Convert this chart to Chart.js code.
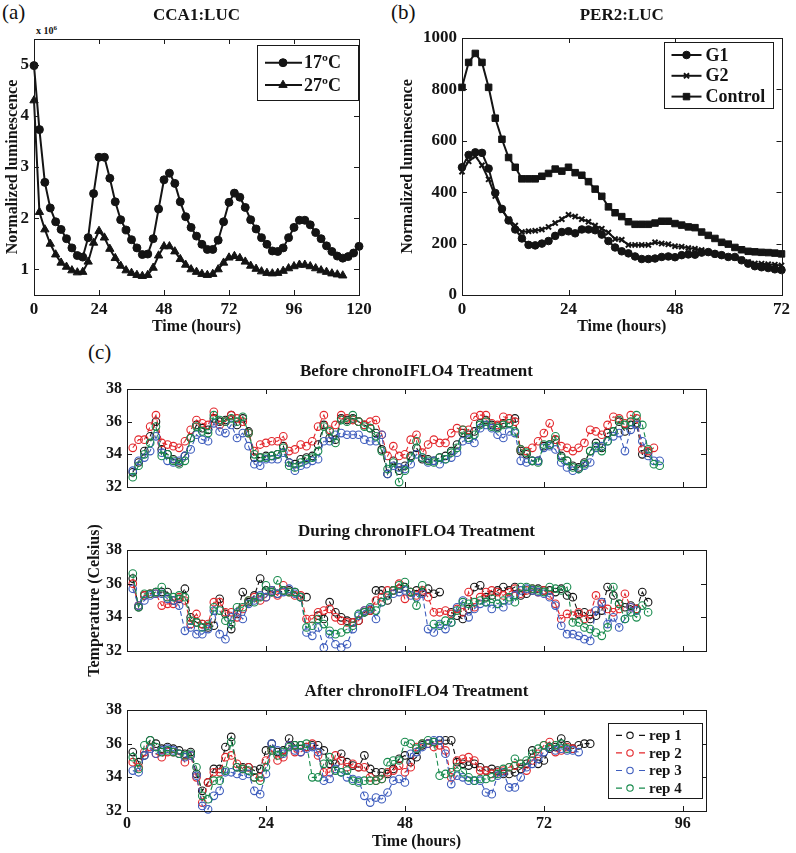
<!DOCTYPE html>
<html>
<head>
<meta charset="utf-8">
<script src="https://cdn.jsdelivr.net/npm/chart.js@4.4.1/dist/chart.umd.min.js"></script>
<style>
  body { margin: 0; background: #fff; width: 796px; height: 853px; position: relative; overflow: hidden;
         font-family: "Liberation Serif", "Times New Roman", serif; color: #111; }
  canvas { position: absolute; }
  .tag { position: absolute; font-size: 21px; line-height: 22px; }
  .mult { position: absolute; font-size: 10px; font-weight: bold; }
</style>
</head>
<body>
<div class="tag" style="left:2px;top:1px">(a)</div>
<div class="tag" style="left:391px;top:1px">(b)</div>
<div class="tag" style="left:88px;top:341px">(c)</div>
<div class="mult" style="left:36px;top:24px">x 10<sup style="font-size:7px">6</sup></div>

<canvas id="chartA" width="392" height="340" style="left:0;top:0"></canvas>
<canvas id="chartB" width="398" height="340" style="left:398px;top:0"></canvas>
<canvas id="chartC1" width="680" height="148" style="left:60px;top:352px"></canvas>
<canvas id="chartC2" width="680" height="220" style="left:60px;top:480px"></canvas>
<canvas id="chartC3" width="680" height="181" style="left:60px;top:672px"></canvas>

<script>
// ---- panel (a) CCA1:LUC (x 10^6) ----
const hoursA = [0, 2, 4, 6, 8, 10, 12, 14, 16, 18, 20, 22, 24, 26, 28, 30, 32, 34, 36, 38, 40,
  42, 44, 46, 48, 50, 52, 54, 56, 58, 60, 62, 64, 66, 68, 70, 72, 74, 76, 78, 80,
  82, 84, 86, 88, 90, 92, 94, 96, 98, 100, 102, 104, 106, 108, 110, 112, 114, 116, 118, 120];
const cca17 = [4.98, 3.73, 2.70, 2.20, 1.93, 1.78, 1.60, 1.42, 1.27, 1.24,
  1.62, 2.48, 3.19, 3.19, 2.78, 2.32, 1.97, 1.77, 1.58, 1.42,
  1.29, 1.30, 1.60, 2.18, 2.75, 2.88, 2.68, 2.32, 2.03, 1.82,
  1.65, 1.49, 1.39, 1.39, 1.57, 1.93, 2.31, 2.49, 2.41, 2.21,
  1.97, 1.79, 1.62, 1.49, 1.36, 1.35, 1.42, 1.62, 1.82, 1.96,
  1.96, 1.87, 1.72, 1.60, 1.46, 1.35, 1.26, 1.22, 1.25, 1.32, 1.45];
const cca27 = [4.30, 2.12, 1.78, 1.50, 1.29, 1.13, 1.05, 0.98, 0.94, 0.95,
  1.15, 1.52, 1.75, 1.62, 1.40, 1.22, 1.07, 0.98, 0.93, 0.89,
  0.87, 0.89, 1.03, 1.27, 1.45, 1.45, 1.35, 1.20, 1.09, 1.00,
  0.95, 0.91, 0.89, 0.91, 1.00, 1.13, 1.23, 1.26, 1.22, 1.15,
  1.07, 1.01, 0.96, 0.93, 0.92, 0.93, 0.97, 1.02, 1.06, 1.09,
  1.09, 1.06, 1.02, 0.98, 0.95, 0.92, 0.90, 0.88];
const ticksAx = [0, 24, 48, 72, 96, 120];
const ticksAy = [1, 2, 3, 4, 5];

// ---- panel (b) PER2:LUC ----
const hoursB = [0, 1.5, 3, 4.5, 6, 7.5, 9, 10.5, 12, 13.5, 15, 16.5, 18, 19.5, 21, 22.5, 24,
  25.5, 27, 28.5, 30, 31.5, 33, 34.5, 36, 37.5, 39, 40.5, 42, 43.5, 45, 46.5, 48,
  49.5, 51, 52.5, 54, 55.5, 57, 58.5, 60, 61.5, 63, 64.5, 66, 67.5, 69, 70.5, 72];
const per2G1 = [497, 545, 555, 553, 492, 397, 335, 290, 255, 220,
  195, 193, 200, 210, 230, 245, 248, 240, 255, 255,
  252, 235, 210, 185, 170, 162, 150, 140, 140, 142,
  148, 150, 147, 155, 158, 157, 165, 167, 160, 155,
  148, 148, 135, 122, 112, 108, 105, 100, 97];
const per2G2 = [480, 520, 540, 505, 450, 385, 330, 295, 270, 245,
  248, 250, 255, 265, 280, 295, 312, 305, 295, 285,
  270, 258, 243, 218, 215, 195, 195, 195, 195, 205,
  200, 197, 190, 188, 183, 180, 175, 165, 158, 155,
  150, 145, 138, 128, 123, 122, 120, 118, 115];
const per2Control = [808, 905, 940, 905, 808, 688, 606, 535, 497, 452,
  452, 452, 462, 473, 490, 482, 497, 476, 466, 441,
  412, 384, 343, 320, 305, 285, 275, 275, 275, 280,
  287, 287, 278, 272, 265, 262, 245, 232, 220, 205,
  198, 185, 176, 170, 168, 166, 165, 163, 160];
const ticksBx = [0, 24, 48, 72];
const ticksBy = [0, 200, 400, 600, 800, 1000];

// ---- panel (c) temperature, Celsius ----
const hoursC = [1, 2, 3, 4, 5, 6, 7, 8, 9, 10, 11, 12, 13, 14, 15, 16, 17, 18, 19, 20,
  21, 22, 23, 24, 25, 26, 27, 28, 29, 30, 31, 32, 33, 34, 35, 36, 37, 38, 39, 40,
  41, 42, 43, 44, 45, 46, 47, 48, 49, 50, 51, 52, 53, 54, 55, 56, 57, 58, 59, 60,
  61, 62, 63, 64, 65, 66, 67, 68, 69, 70, 71, 72, 73, 74, 75, 76, 77, 78, 79, 80,
  81, 82, 83, 84, 85, 86, 87, 88, 89, 90, 91, 92];
const repNames = ["rep 1", "rep 2", "rep 3", "rep 4"];
const ticksCx = [0, 24, 48, 72, 96];
const ticksCy = [32, 34, 36, 38];

const beforeRep1 = [32.9, 33.5, 34.2, 35.1, 36.0, 34.3, 34.0, 33.7, 33.5, 33.9,
  35.0, 35.8, 35.6, 35.5, 36.2, 36.0, 36.1, 36.4, 35.8, 36.2,
  35.4, 33.8, 33.8, 33.9, 33.9, 34.0, 34.5, 33.5, 33.4, 33.7,
  33.8, 33.9, 34.6, 35.8, 35.0, 34.9, 36.2, 36.1, 36.2, 36.0,
  35.8, 35.6, 35.3, 34.3, 32.8, 33.6, 33.0, 33.3, 33.9, 34.4,
  33.7, 33.7, 33.6, 33.8, 33.9, 34.2, 34.6, 35.3, 35.2, 35.4,
  35.9, 36.1, 35.8, 35.7, 35.9, 35.9, 36.2, 34.2, 34.0, 33.6,
  33.6, 34.5, 34.6, 34.9, 33.9, 33.6, 33.3, 33.2, 33.5, 34.2,
  34.7, 34.4, 35.3, 35.4, 36.0, 35.4, 35.8, 35.9, 34.0, 34.1];
const beforeRep2 = [34.4, 34.9, 34.9, 35.7, 36.4, 34.7, 34.6, 34.5, 34.4, 34.8,
  35.5, 36.1, 35.9, 35.8, 36.6, 35.8, 36.0, 36.4, 36.2, 36.0,
  35.3, 34.2, 34.6, 34.7, 34.8, 34.8, 35.1, 34.2, 34.3, 34.6,
  34.5, 34.8, 35.7, 36.4, 35.5, 35.8, 36.4, 36.2, 36.1, 36.0,
  35.8, 36.0, 36.1, 35.2, 33.9, 34.5, 33.9, 34.0, 34.9, 35.2,
  34.1, 34.6, 34.9, 34.7, 34.7, 35.3, 35.6, 35.5, 35.5, 36.3,
  36.4, 36.4, 35.9, 35.8, 36.3, 36.2, 36.0, 34.3, 34.2, 34.4,
  34.8, 35.3, 35.9, 34.9, 34.5, 34.4, 34.2, 34.4, 34.7, 35.5,
  35.4, 35.2, 35.8, 36.3, 36.2, 35.9, 36.4, 36.2, 34.3, 34.2, 34.4];
const beforeRep3 = [33.0, 33.6, 33.8, 34.2, 35.1, 34.1, 33.6, 33.5, 33.6, 33.9,
  34.3, 35.2, 34.9, 34.8, 35.9, 35.4, 35.3, 35.8, 35.0, 35.3,
  34.5, 33.4, 33.3, 33.7, 33.7, 33.7, 34.1, 33.5, 33.0, 33.3,
  33.4, 33.6, 33.7, 34.8, 34.8, 35.2, 35.3, 35.2, 35.2, 35.2,
  34.9, 34.8, 34.8, 35.2, 32.8, 33.3, 33.2, 33.1, 33.4, 34.0,
  33.8, 33.5, 33.6, 33.4, 33.7, 33.8, 34.1, 34.8, 34.9, 34.7,
  35.6, 35.8, 35.6, 35.2, 35.0, 35.4, 35.3, 33.6, 33.5, 33.6,
  33.6, 34.4, 34.5, 34.3, 33.5, 33.2, 33.0, 33.1, 33.3, 33.5,
  34.4, 34.5, 34.8, 35.1, 35.3, 34.2, 35.5, 35.8, 34.8, 33.9, 33.6, 33.6];
const beforeRep4 = [32.6, 33.3, 34.0, 34.7, 35.7, 33.9, 34.0, 33.6, 33.4, 33.6,
  35.0, 35.7, 35.4, 35.3, 36.4, 36.1, 36.0, 36.2, 36.0, 36.3,
  35.3, 34.0, 33.8, 33.8, 33.9, 34.0, 34.4, 33.3, 33.2, 33.5,
  33.7, 33.8, 34.2, 35.7, 35.4, 34.7, 36.1, 36.0, 36.4, 36.0,
  35.7, 35.6, 35.1, 34.2, 33.1, 33.5, 32.3, 33.0, 33.8, 34.8,
  33.8, 33.6, 33.5, 33.8, 33.7, 34.1, 34.4, 35.5, 35.0, 35.2,
  35.8, 36.0, 35.7, 35.6, 35.8, 35.9, 35.4, 34.3, 34.1, 33.6,
  33.5, 34.6, 34.6, 35.1, 33.8, 33.6, 33.2, 33.1, 33.4, 34.2,
  34.5, 34.2, 34.8, 35.4, 36.1, 35.8, 36.0, 36.4, 35.8, 34.3, 33.4, 33.3];

const duringRep1 = [36.3, 34.6, 35.3, 35.4, 35.5, 35.5, 35.5, 35.0, 35.1, 35.7,
  34.0, 33.7, 33.6, 33.4, 33.5, 35.1, 34.2, 33.3, 34.2, 35.5,
  34.9, 35.3, 36.3, 35.6, 35.5, 35.4, 35.6, 35.6, 35.5, 35.2,
  35.2, null, 34.1, 33.9, 34.9, 34.3, 34.0, 33.8, 33.7, 33.8,
  34.3, 34.4, 35.6, 35.6, 35.0, 35.6, 35.7, 35.8, 35.5, 35.6,
  35.5, 35.7, 35.4, 35.5, null, 34.3, 34.1, 33.9, 34.5, 35.8,
  35.9, 35.2, 35.3, 35.6, 35.8, 35.6, 35.8, 35.3, 35.4, 35.6,
  35.7, 35.6, 35.6, 35.5, 35.7, 35.3, 35.2, 34.2, 34.3, 33.9,
  34.1, 34.4, 35.8, 35.3, 34.8, 34.6, 34.7, 34.5, 35.5, 34.9];
const duringRep2 = [36.0, 34.7, 35.3, 35.4, 35.4, 34.7, 34.8, 34.8, 35.2, 35.0,
  33.6, 34.2, 33.6, 33.6, 34.9, 34.9, 34.3, 34.3, 34.0, 34.5,
  35.0, 35.2, 35.0, 35.2, 35.6, 35.3, 35.9, 35.5, 35.3, 35.3,
  33.9, 33.9, 34.3, 34.4, 34.5, 34.0, 33.8, 33.7, 33.7, 33.8,
  34.4, 34.4, 35.0, 35.2, 35.6, 35.6, 36.0, 35.1, 35.5, 35.3,
  35.6, 35.2, 34.3, 34.3, 34.4, 34.2, 34.5, 34.3, 35.5, 34.6,
  35.2, 35.5, 35.6, 35.5, 35.3, 35.5, 35.7, 35.4, 35.6, 35.7,
  35.5, 35.6, 35.3, 34.8, 33.9, 34.2, 34.1, 34.3, 33.9, 34.2,
  35.3, 34.8, 34.5, 34.3, 34.5, 35.4, 34.6, 34.5];
const duringRep3 = [35.7, 34.7, 35.0, 35.3, 35.4, 35.4, 35.1, 35.0, 34.7, 33.2,
  33.4, 33.0, 33.0, 33.3, 34.4, 33.0, 32.7, 34.0, 34.3, 33.9,
  34.8, 35.0, 35.3, 35.2, 35.6, 35.4, 35.5, 35.7, 35.4, 35.2,
  33.1, 32.9, 33.4, 32.2, 33.0, 32.4, 32.2, 32.4, 33.3, 34.1,
  34.4, 34.5, 33.9, 34.9, 35.3, 35.4, 35.5, 35.6, 35.3, 35.2,
  35.4, 33.3, 33.1, 33.6, 33.3, 33.7, 34.6, 35.0, 34.0, 34.5,
  34.8, 34.9, 34.5, 34.8, 34.6, 35.0, 35.3, 35.6, 35.7, 35.6,
  35.5, 35.4, 35.2, 34.7, 33.5, 33.0, 33.0, 32.9, 32.7, 32.6,
  34.4, 34.9, 33.6, 34.0, 33.4, 33.9, 34.6, 34.4];
const duringRep4 = [36.6, 34.6, 35.4, 35.4, 35.5, 35.8, 35.2, 35.2, 35.3, 35.2,
  33.8, 33.7, 33.4, 33.5, 34.6, 34.4, 33.8, 33.6, 34.6, 34.6,
  35.0, 34.9, 35.2, 35.9, 35.5, 36.2, 35.6, 35.5, 35.5, 35.2,
  33.4, 33.5, 33.9, 33.6, 33.2, 33.0, 33.1, 33.3, 33.5, 34.2,
  34.3, 34.6, 34.4, 34.9, 35.3, 35.6, 35.9, 36.1, 35.5, 34.7,
  35.9, null, 33.6, 33.5, 33.8, 33.7, 34.4, 34.9, 34.8, 34.9,
  35.0, 34.9, 35.1, 34.8, 35.0, 35.2, 34.9, 35.8, 35.8, 35.7,
  35.6, 35.5, 35.8, 35.7, 35.6, 35.8, 33.7, 33.7, 33.4, 33.3,
  33.1, 32.9, 33.4, 35.8, 34.8, 33.9, 34.3, 34.0, 34.7, 34.3];

const afterRep1 = [35.5, 34.9, 35.3, 36.2, 36.0, 35.7, 35.8, 35.7, 35.6, 35.4,
  35.5, 34.2, 33.2, 33.7, 34.5, 34.5, 35.8, 36.4, 34.6, 34.6,
  34.6, 34.4, 34.5, 35.6, 36.0, 35.5, 35.6, 36.3, 35.9, 35.9,
  35.8, 35.9, 35.9, 35.6, 34.8, 34.8, 35.4, 34.9, 34.7, 34.6,
  35.3, 34.5, 34.3, 34.3, 34.2, 34.5, 35.1, 35.3, 34.9, 35.2,
  35.9, 36.0, 36.1, 36.2, 36.2, 36.2, 34.9, 34.8, 34.7, 34.8,
  34.6, 34.4, 34.5, 34.4, 34.2, 34.2, 34.3, 34.5, 34.8, 35.6,
  34.8, 35.0, 35.7, 35.8, 36.3, 35.9, 35.7, 35.9, 36.0, 36.0];
const afterRep2 = [34.9, 34.6, 35.5, 35.8, 35.4, 35.2, 35.5, 35.5, 35.4, 34.9,
  35.3, 34.0, 32.5, 33.7, 34.3, 34.3, 35.2, 35.3, 34.8, 34.5,
  34.6, 34.0, 34.0, 35.0, 35.6, 35.0, 35.2, 35.9, 35.5, 35.5,
  35.8, 36.0, 35.3, 34.3, 34.3, 35.3, 35.0, 34.6, 34.8, 34.6,
  34.6, 34.0, 33.8, 33.9, 34.3, 34.4, 34.7, 34.3, 34.6, 35.8,
  36.0, 36.0, 35.8, 35.9, 35.6, 34.0, 35.0, 35.1, 35.2, 35.0,
  34.4, 34.4, 34.2, 34.3, 34.4, 34.6, 34.7, 34.8, 34.4, 35.0,
  35.4, 35.9, 36.1, 35.5, 35.6, 35.8, 35.7];
const afterRep3 = [34.4, 34.3, 35.3, 35.7, 35.4, 35.6, 35.7, 35.6, 35.4, 35.2,
  35.3, 34.1, 32.3, 32.1, 32.9, 33.2, 34.3, 34.3, 34.2, 34.1,
  34.2, 33.2, 33.0, 34.2, 36.0, 35.6, 35.4, 35.9, 35.6, 35.5,
  35.7, 35.8, 35.5, 33.8, 33.9, 34.5, 34.3, 34.0, 33.9, 33.8,
  32.9, 32.5, 32.8, 32.7, 33.1, 33.8, 33.9, 33.7, 35.4, 35.5,
  35.8, 36.0, 36.2, 36.2, 35.4, 33.6, 34.1, 34.0, 33.8, 33.8,
  33.8, 33.1, 33.0, 34.1, 34.3, 33.4, 33.4, 34.0, 34.6, 34.8,
  35.1, 35.5, 35.8, 35.6, 35.7, 35.6, 35.6, 35.5];
const afterRep4 = [35.2, 34.5, 35.9, 36.2, 35.8, 35.5, 35.6, 35.5, 35.4, 35.3,
  35.4, 34.6, 32.9, 32.7, 33.8, 33.8, 34.4, 36.1, 34.6, 34.5,
  34.4, 34.0, 33.8, 34.6, 35.6, 35.3, 35.5, 35.8, 35.9, 35.9,
  36.0, 34.0, 34.0, 34.8, 35.2, 34.4, 34.3, 34.4, 33.8, 33.7,
  33.8, 33.8, 33.8, 33.9, 34.9, 35.0, 35.0, 36.1, 36.0, 35.7,
  36.0, 36.2, 36.1, 34.1, 34.2, 34.3, 34.6, 34.3, 34.0, 33.8,
  33.9, 33.9, 34.0, 34.2, 34.5, 34.6, 35.1, 34.8, 35.0, 35.4,
  35.7, 35.9, 35.8, 35.9, 36.0, 35.7];

const repColors = ["#141414", "#e3262b", "#3d5cbd", "#178a4c"];

Chart.defaults.font.family = '"Liberation Serif", "Times New Roman", serif';
Chart.defaults.font.weight = 'bold';
Chart.defaults.color = '#141414';

// matlab style frame with inward ticks on all four sides
const boxTicks = {
  id: 'boxTicks',
  afterDatasetsDraw(chart) {
    const {ctx, chartArea: a, scales: {x, y}} = chart;
    const len = 5;
    ctx.save();
    ctx.strokeStyle = '#1a1a1a';
    ctx.lineWidth = 1;
    ctx.beginPath();
    x.ticks.forEach(t => {
      const px = Math.round(x.getPixelForValue(t.value)) + 0.5;
      ctx.moveTo(px, a.bottom); ctx.lineTo(px, a.bottom - len);
      ctx.moveTo(px, a.top); ctx.lineTo(px, a.top + len);
    });
    y.ticks.forEach(t => {
      const py = Math.round(y.getPixelForValue(t.value)) + 0.5;
      ctx.moveTo(a.left, py); ctx.lineTo(a.left + len, py);
      ctx.moveTo(a.right, py); ctx.lineTo(a.right - len, py);
    });
    ctx.stroke();
    ctx.strokeRect(Math.round(a.left) + 0.5, Math.round(a.top) + 0.5,
      Math.round(a.width), Math.round(a.height));
    ctx.restore();
  }
};

// boxed legend inside the plot, sample line + marker + label
const insetLegend = {
  id: 'insetLegend',
  afterDraw(chart, args, o) {
    if (!o || !o.w) return;
    const {ctx, chartArea: a} = chart;
    const x0 = a.right - o.right - o.w, y0 = a.top + o.top;
    ctx.save();
    ctx.fillStyle = '#fff';
    ctx.fillRect(x0, y0, o.w, o.h);
    ctx.strokeStyle = '#1a1a1a';
    ctx.lineWidth = 1;
    ctx.strokeRect(Math.round(x0) + 0.5, Math.round(y0) + 0.5, o.w, o.h);
    ctx.font = 'bold ' + o.fontSize + 'px "Liberation Serif", serif';
    ctx.textBaseline = 'middle';
    chart.data.datasets.forEach((ds, i) => {
      const yy = y0 + o.rowTop + i * o.rowGap;
      ctx.strokeStyle = ds.borderColor;
      ctx.lineWidth = o.lineWidth;
      ctx.setLineDash(o.dash || []);
      ctx.beginPath();
      ctx.moveTo(x0 + o.lineX0, yy);
      ctx.lineTo(x0 + o.lineX1, yy);
      ctx.stroke();
      ctx.setLineDash([]);
      ctx.fillStyle = ds.pointBackgroundColor;
      ctx.strokeStyle = ds.pointBorderColor;
      ctx.lineWidth = ds.pointBorderWidth;
      Chart.helpers.drawPoint(ctx, {pointStyle: ds.pointStyle, radius: o.markR || ds.pointRadius,
        borderWidth: ds.pointBorderWidth, rotation: 0}, x0 + o.markX, yy);
      ctx.fillStyle = '#141414';
      ctx.fillText(ds.label, x0 + o.textX, yy + 1);
    });
    ctx.restore();
  }
};

function pts(xs, ys) {
  return ys.map((v, i) => ({x: xs[i], y: v}));
}

function axisX(min, max, ticks, height, opt) {
  return {
    type: 'linear', min, max,
    grid: {display: false, drawTicks: false}, border: {display: false},
    afterBuildTicks: s => { s.ticks = ticks.map(v => ({value: v})); },
    afterFit: s => { s.height = height; },
    ticks: {display: opt.labels, padding: opt.tickPad || 0, autoSkip: false, maxRotation: 0,
      callback: v => String(v), font: {size: opt.fontSize || 17, lineHeight: 1}},
    title: opt.title ? {display: true, text: opt.title, font: {size: 16, lineHeight: 1},
      padding: {top: 0, bottom: opt.titlePad}} : {display: false}
  };
}

function axisY(min, max, ticks, width, opt) {
  return {
    type: 'linear', min, max,
    grid: {display: false, drawTicks: false}, border: {display: false},
    afterBuildTicks: s => { s.ticks = ticks.map(v => ({value: v})); },
    afterFit: s => { s.width = width; },
    ticks: {padding: 5, autoSkip: false, callback: v => String(v),
      font: {size: opt.fontSize || 17, lineHeight: 1}},
    title: opt.title ? {display: true, text: opt.title, font: {size: 16, lineHeight: 1},
      padding: {top: opt.titleOffset - 8, bottom: 0}} : {display: false}
  };
}

function titleOpt(text, top, bottom) {
  return {display: true, text, fullSize: false, font: {size: 17, lineHeight: 1},
    color: '#141414', padding: {top, bottom}};
}

function blackSeries(label, xs, ys, style, radius) {
  return {label, data: pts(xs, ys), borderColor: '#141414', borderWidth: 2,
    pointStyle: style, pointRadius: radius, pointBorderWidth: style === 'crossRot' ? 2 : 1,
    pointBackgroundColor: '#141414', pointBorderColor: '#141414', clip: false, tension: 0};
}

function repSeries(i, ys) {
  return {label: repNames[i], data: pts(hoursC, ys), borderColor: repColors[i], borderWidth: 1.1,
    borderDash: [5, 3], pointStyle: 'circle', pointRadius: 3.8, pointBorderWidth: 1.1,
    pointBackgroundColor: 'rgba(0,0,0,0)', pointBorderColor: repColors[i],
    spanGaps: false, tension: 0, order: 4 - i, clip: false};
}

// (a)
new Chart(document.getElementById('chartA'), {
  type: 'line',
  data: {datasets: [
    blackSeries('17ºC', hoursA, cca17, 'circle', 4),
    blackSeries('27ºC', hoursA, cca27, 'triangle', 4.8)
  ]},
  options: {
    responsive: false, animation: false, events: [],
    layout: {padding: {left: 0, right: 33, top: 0, bottom: 0}},
    scales: {
      x: axisX(0, 120, ticksAx, 45, {labels: true, tickPad: 6, title: 'Time (hours)', titlePad: 5}),
      y: axisY(0.5, 5.5, ticksAy, 34, {title: 'Normalized luminescence', titleOffset: 12.4})
    },
    plugins: {
      legend: {display: false}, tooltip: {enabled: false},
      title: titleOpt('CCA1:LUC', 7.5, 14.5),
      insetLegend: {w: 101, h: 55, right: 1, top: 6, rowTop: 17.7, rowGap: 22.3,
        lineX0: 8, lineX1: 45, markX: 26, textX: 47, fontSize: 18, lineWidth: 2}
    }
  },
  plugins: [boxTicks, insetLegend]
});

// (b)
new Chart(document.getElementById('chartB'), {
  type: 'line',
  data: {datasets: [
    blackSeries('G1', hoursB, per2G1, 'circle', 3.8),
    blackSeries('G2', hoursB, per2G2, 'crossRot', 3.6),
    blackSeries('Control', hoursB, per2Control, 'rect', 4.6)
  ]},
  options: {
    responsive: false, animation: false, events: [],
    layout: {padding: {left: 0, right: 9, top: 0, bottom: 0}},
    scales: {
      x: axisX(0, 72, ticksBx, 45, {labels: true, tickPad: 6, title: 'Time (hours)', titlePad: 5}),
      y: axisY(0, 1000, ticksBy, 64, {title: 'Normalized luminescence', titleOffset: 10})
    },
    plugins: {
      legend: {display: false}, tooltip: {enabled: false},
      title: titleOpt('PER2:LUC', 7.5, 13.5),
      insetLegend: {w: 109, h: 66, right: 9, top: 4, rowTop: 13, rowGap: 20.8,
        lineX0: 8, lineX1: 38, markX: 23, textX: 42, fontSize: 18, lineWidth: 2}
    }
  },
  plugins: [boxTicks, insetLegend]
});

// (c) three stacked panels
function tempChart(id, title, reps, pads, xh, xopt, yopt, legend, titlePadBottom) {
  return new Chart(document.getElementById(id), {
    type: 'line',
    data: {datasets: reps.map((ys, i) => repSeries(i, ys))},
    options: {
      responsive: false, animation: false, events: [],
      layout: {padding: {left: 0, right: 34, top: pads[0], bottom: pads[1]}},
      scales: {
        x: axisX(0, 100, ticksCx, xh, xopt),
        y: axisY(32, 38, ticksCy, 67, yopt)
      },
      plugins: {
        legend: {display: false}, tooltip: {enabled: false},
        title: titleOpt(title, 11.5, titlePadBottom),
        insetLegend: legend
      }
    },
    plugins: [boxTicks, insetLegend]
  });
}

tempChart('chartC1', 'Before chronoIFLO4 Treatment',
  [beforeRep1, beforeRep2, beforeRep3, beforeRep4], [0, 0], 9.5,
  {labels: false}, {fontSize: 16}, null, 8.5);
tempChart('chartC2', 'During chronoIFLO4 Treatment',
  [duringRep1, duringRep2, duringRep3, duringRep4], [32, 40], 9,
  {labels: false}, {fontSize: 16, title: 'Temperature (Celsius)', titleOffset: 35}, null, 9.5);
tempChart('chartC3', 'After chronoIFLO4 Treatment',
  [afterRep1, afterRep2, afterRep3, afterRep4], [0, 0], 42,
  {labels: true, fontSize: 16, tickPad: 5, title: 'Time (hours)', titlePad: 3},
  {fontSize: 16},
  {w: 94, h: 75, right: 4, top: 13, rowTop: 12.3, rowGap: 17.6, lineX0: 8, lineX1: 37,
   markX: 22, markR: 3.2, textX: 41, fontSize: 15, lineWidth: 1.2, dash: [6, 17]}, 9.5);
</script>
</body>
</html>
